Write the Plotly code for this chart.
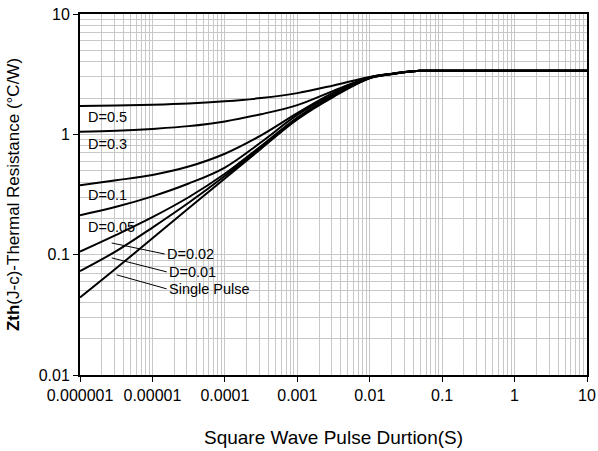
import math
import plotly.graph_objects as go

# ---- data ----
x_pts = [1e-6, 3.16e-6, 1e-5, 3.16e-5, 1e-4, 3.16e-4, 1e-3, 3.16e-3, 1e-2, 2e-2, 3.16e-2, 5e-2, 0.1, 10]

y_d05 = [1.72, 1.74, 1.76, 1.80, 1.88, 2.00, 2.20, 2.55, 3.00, 3.19, 3.31, 3.37, 3.38, 3.38]
y_d03 = [1.05, 1.07, 1.11, 1.17, 1.28, 1.47, 1.75, 2.30, 2.98, 3.18, 3.30, 3.37, 3.38, 3.38]
y_d01 = [0.377, 0.415, 0.46, 0.54, 0.69, 0.98, 1.50, 2.22, 2.96, 3.18, 3.30, 3.37, 3.38, 3.38]
y_d005 = [0.213, 0.25, 0.305, 0.39, 0.53, 0.86, 1.45, 2.15, 2.95, 3.17, 3.30, 3.37, 3.38, 3.38]
y_d002 = [0.106, 0.146, 0.205, 0.30, 0.47, 0.80, 1.38, 2.10, 2.94, 3.17, 3.30, 3.37, 3.38, 3.38]
y_d001 = [0.073, 0.107, 0.168, 0.27, 0.45, 0.78, 1.35, 2.08, 2.93, 3.17, 3.30, 3.37, 3.38, 3.38]
y_single = [0.044, 0.077, 0.137, 0.243, 0.43, 0.76, 1.33, 2.05, 2.92, 3.16, 3.30, 3.37, 3.38, 3.38]

x_tickvals = [1e-6, 1e-5, 1e-4, 1e-3, 1e-2, 1e-1, 1, 10]
x_ticktext = ["0.000001", "0.00001", "0.0001", "0.001", "0.01", "0.1", "1", "10"]
y_tickvals = [0.01, 0.1, 1, 10]
y_ticktext = ["0.01", "0.1", "1", "10"]

series = [y_d05, y_d03, y_d01, y_d005, y_d002, y_d001, y_single]

# Labels placed just under curves at the left edge (text, y value)
left_labels = [("D=0.5", 1.40), ("D=0.3", 0.834), ("D=0.1", 0.315), ("D=0.05", 0.171)]
# Leader labels: (text, tip x, tip y, ax, ay)
leader_labels = [
    ("D=0.02", 2.74e-6, 0.125, 53, 11),
    ("D=0.01", 2.74e-6, 0.094, 55, 14),
    ("Single Pulse", 3.2e-6, 0.068, 50, 14),
]

FONT = "Liberation Sans, Arial, sans-serif"

fig = go.Figure()
for ys in series:
    fig.add_trace(go.Scatter(x=x_pts, y=ys, mode="lines",
                             line=dict(color="black", width=2, shape="spline", smoothing=1.0),
                             showlegend=False, hoverinfo="skip"))

for txt, yv in left_labels:
    fig.add_annotation(x=-5.917, y=math.log10(yv), xref="x", yref="y", text=txt,
                       showarrow=False, xanchor="left", yanchor="middle",
                       font=dict(family=FONT, size=14.5, color="black"))

for txt, tx, ty, ax, ay in leader_labels:
    fig.add_annotation(x=math.log10(tx), y=math.log10(ty), xref="x", yref="y", text=txt,
                       showarrow=True, arrowhead=0, arrowwidth=1, arrowcolor="black",
                       ax=ax, ay=ay, xanchor="left", yanchor="middle", standoff=0, startstandoff=0,
                       font=dict(family=FONT, size=14.5, color="black"))

fig.add_annotation(x=0.5, y=0, xref="paper", yref="paper", yshift=-62, text="Square Wave Pulse Durtion(S)",
                   showarrow=False, xanchor="center", yanchor="middle",
                   font=dict(family=FONT, size=19, color="black"))

grid_col = "#c8c8c8"
fig.update_xaxes(type="log", range=[-6, 1], tickvals=x_tickvals, ticktext=x_ticktext,
                 showline=True, linecolor="black", linewidth=2, mirror=True,
                 ticks="outside", ticklen=5, tickcolor="black", tickwidth=1,
                 showgrid=True, gridcolor=grid_col, gridwidth=1,
                 minor=dict(dtick="D1", showgrid=True, gridcolor=grid_col, gridwidth=1, ticks=""),
                 tickfont=dict(family=FONT, size=16, color="black"), ticklabeloverflow="allow",
                 automargin=False, zeroline=False)
fig.update_yaxes(type="log", range=[-2, 1], tickvals=y_tickvals, ticktext=y_ticktext,
                 showline=True, linecolor="black", linewidth=2, mirror=True,
                 ticks="outside", ticklen=5, tickcolor="black", tickwidth=1,
                 showgrid=True, gridcolor=grid_col, gridwidth=1,
                 minor=dict(dtick="D1", showgrid=True, gridcolor=grid_col, gridwidth=1, ticks=""),
                 tickfont=dict(family=FONT, size=16, color="black"), ticklabeloverflow="allow",
                 title=dict(text="<b>Zth</b>(J-c)-Thermal Resistance (°C/W)", font=dict(family=FONT, size=17, color="black")),
                 automargin=False, zeroline=False)

fig.update_layout(width=598, height=451, margin=dict(l=80, r=11, t=14, b=76),
                  plot_bgcolor="white", paper_bgcolor="white")

# remove the default 8px page margin so the figure fills the window exactly
fig.write_html("out.html", config={"displayModeBar": False},
               post_script="document.body.style.margin='0px';document.body.style.overflow='hidden';")
